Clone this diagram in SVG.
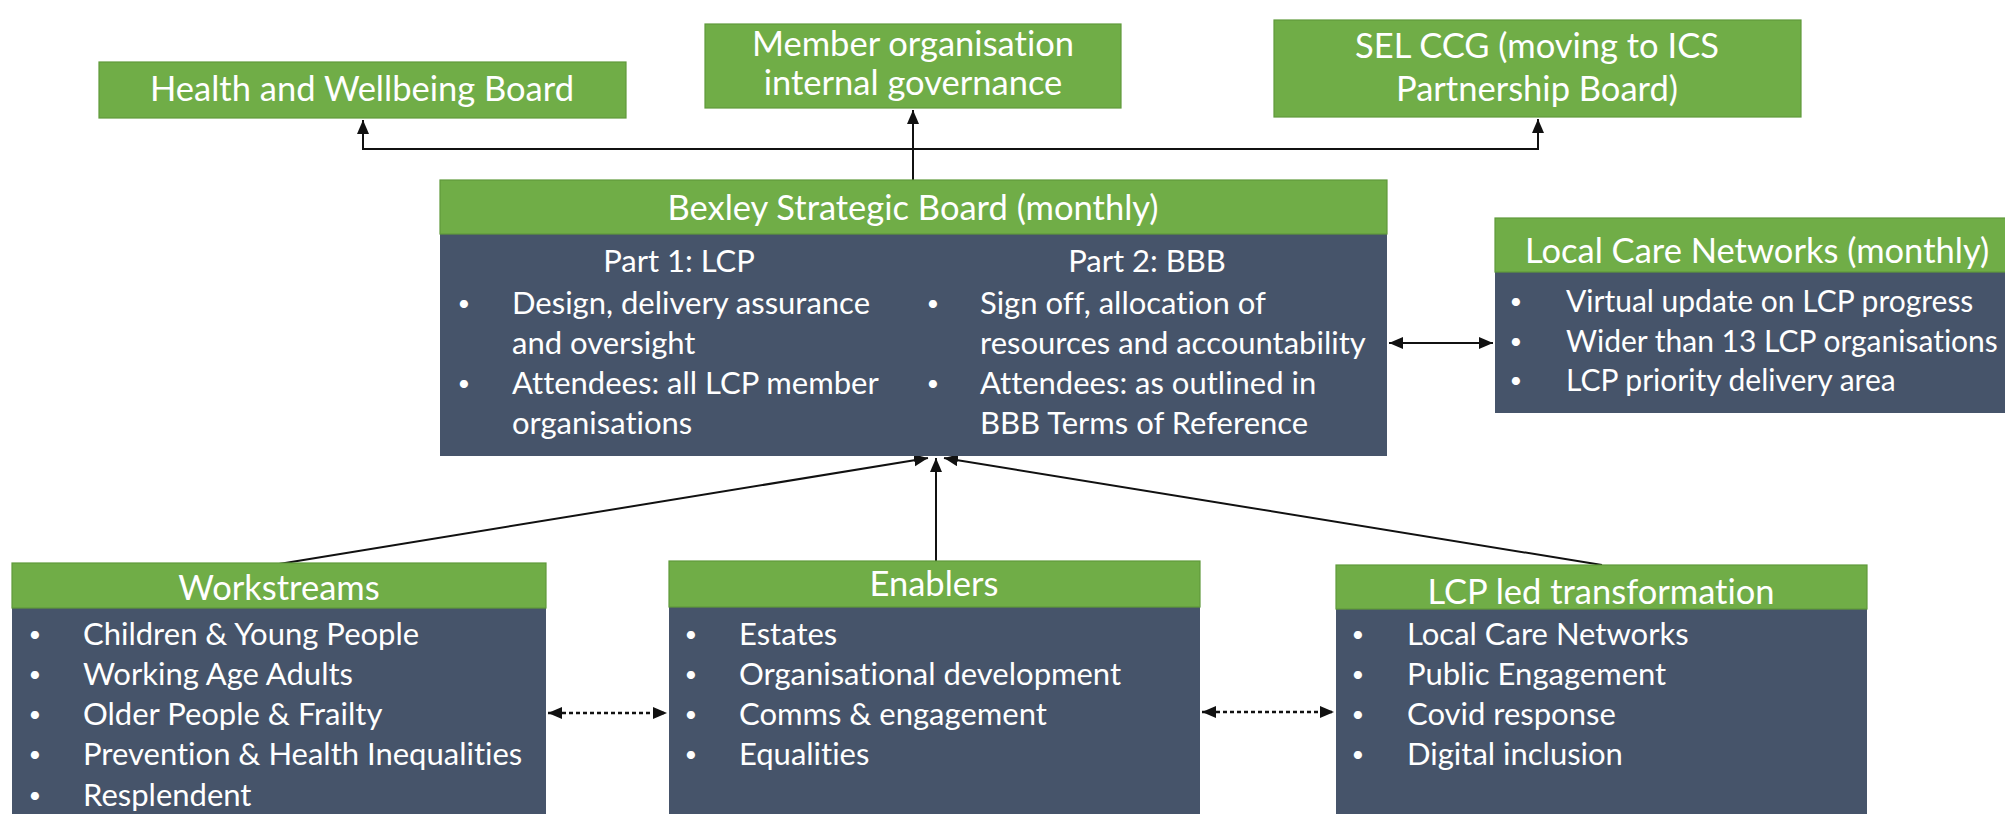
<svg xmlns="http://www.w3.org/2000/svg" width="2005" height="814" viewBox="0 0 2005 814">
<style>
text{font-variant-ligatures:none;font-feature-settings:"liga" 0}
.g{fill:#70AD47;stroke:#5f9a3b;stroke-width:1.2}
.s{fill:#46546A}
.h{font-family:Lato,"Liberation Sans",sans-serif;font-size:34.5px;fill:#fff;text-anchor:middle}
.b{font-family:Lato,"Liberation Sans",sans-serif;font-size:31px;fill:#fff}
.d{font-family:Lato,"Liberation Sans",sans-serif;font-size:31px;fill:#fff;text-anchor:middle}
.p{font-family:Lato,"Liberation Sans",sans-serif;font-size:22px;fill:#fff;text-anchor:middle}
.c{fill:none;stroke:#111;stroke-width:2}
.dot{fill:none;stroke:#111;stroke-width:2.5;stroke-dasharray:4 3}
</style>
<defs>
<marker id="ah" markerUnits="userSpaceOnUse" markerWidth="16" markerHeight="14" refX="14" refY="6" orient="auto-start-reverse" viewBox="0 0 16 14"><path d="M0,0 L14,6 L0,12 Z" fill="#111"/></marker>
<linearGradient id="fl" x1="0" x2="1" y1="0" y2="0"><stop offset="0" stop-color="#ffffff"/><stop offset="1" stop-color="#a9c48f"/></linearGradient>
</defs>
<rect width="2005" height="814" fill="#fff"/>
<line x1="1500" y1="9" x2="1965" y2="9" stroke="url(#fl)" stroke-width="1.5"/>

<g id="connectors">
<path class="c" d="M913,180 V110" marker-end="url(#ah)"/>
<path class="c" d="M363,120 V149 H1538 V119" marker-start="url(#ah)" marker-end="url(#ah)"/>
<path class="c" d="M1389,343 H1493" marker-start="url(#ah)" marker-end="url(#ah)"/>
<path class="c" d="M279,564 L928,458" marker-end="url(#ah)"/>
<path class="c" d="M936,561 V458" marker-end="url(#ah)"/>
<path class="c" d="M1602,565 L944,458" marker-end="url(#ah)"/>
<path class="dot" d="M548,713 H667" marker-start="url(#ah)" marker-end="url(#ah)"/>
<path class="dot" d="M1202,712 H1334" marker-start="url(#ah)" marker-end="url(#ah)"/>
</g>

<g id="hwb">
<rect class="g" x="99" y="62" width="527" height="56"/>
<text class="h" x="362" y="101">Health and Wellbeing Board</text>
</g>

<g id="member-org">
<rect class="g" x="705" y="24" width="416" height="84"/>
<text class="h" x="913" y="56">Member organisation</text>
<text class="h" x="913" y="95">internal governance</text>
</g>

<g id="sel-ccg">
<rect class="g" x="1274" y="20" width="527" height="97"/>
<text class="h" x="1537" y="58">SEL CCG (moving to ICS</text>
<text class="h" x="1537" y="101">Partnership Board)</text>
</g>

<g id="bexley">
<rect class="s" x="440" y="180" width="947" height="276"/>
<rect class="g" x="440" y="180" width="947" height="54"/>
<text class="h" x="913" y="220">Bexley Strategic Board (monthly)</text>
<text class="d" x="679" y="272">Part 1: LCP</text>
<text class="d" x="1147" y="272">Part 2: BBB</text>
<text class="p" x="464" y="311">•</text>
<text class="b" x="512" y="314">Design, delivery assurance</text>
<text class="b" x="512" y="354">and oversight</text>
<text class="p" x="464" y="391">•</text>
<text class="b" x="512" y="394">Attendees: all LCP member</text>
<text class="b" x="512" y="434">organisations</text>
<text class="p" x="933" y="311">•</text>
<text class="b" x="980" y="314">Sign off, allocation of</text>
<text class="b" x="980" y="354">resources and accountability</text>
<text class="p" x="933" y="391">•</text>
<text class="b" x="980" y="394">Attendees: as outlined in</text>
<text class="b" x="980" y="434">BBB Terms of Reference</text>
</g>

<g id="lcn">
<rect class="s" x="1495" y="218" width="520" height="195"/>
<rect class="g" x="1495" y="218" width="520" height="54"/>
<text class="h" x="1525" y="263" style="text-anchor:start">Local Care Networks (monthly)</text>
<text class="p" x="1516" y="309">•</text>
<text class="b" x="1566" y="312" style="font-size:30px">Virtual update on LCP progress</text>
<text class="p" x="1516" y="349">•</text>
<text class="b" x="1566" y="352" style="font-size:30px">Wider than 13 LCP organisations</text>
<text class="p" x="1516" y="388">•</text>
<text class="b" x="1566" y="391" style="font-size:30px">LCP priority delivery area</text>
</g>

<g id="workstreams">
<rect class="s" x="12" y="563" width="534" height="260"/>
<rect class="g" x="12" y="563" width="534" height="45"/>
<text class="h" x="279" y="600">Workstreams</text>
<text class="p" x="35" y="642">•</text>
<text class="b" x="83" y="645">Children &amp; Young People</text>
<text class="p" x="35" y="682">•</text>
<text class="b" x="83" y="685">Working Age Adults</text>
<text class="p" x="35" y="722">•</text>
<text class="b" x="83" y="725">Older People &amp; Frailty</text>
<text class="p" x="35" y="762">•</text>
<text class="b" x="83" y="765">Prevention &amp; Health Inequalities</text>
<text class="p" x="35" y="803">•</text>
<text class="b" x="83" y="806">Resplendent</text>
</g>

<g id="enablers">
<rect class="s" x="669" y="561" width="531" height="262"/>
<rect class="g" x="669" y="561" width="531" height="46"/>
<text class="h" x="934" y="596">Enablers</text>
<text class="p" x="691" y="642">•</text>
<text class="b" x="739" y="645">Estates</text>
<text class="p" x="691" y="682">•</text>
<text class="b" x="739" y="685">Organisational development</text>
<text class="p" x="691" y="722">•</text>
<text class="b" x="739" y="725">Comms &amp; engagement</text>
<text class="p" x="691" y="762">•</text>
<text class="b" x="739" y="765">Equalities</text>
</g>

<g id="lcp-led">
<rect class="s" x="1336" y="565" width="531" height="258"/>
<rect class="g" x="1336" y="565" width="531" height="44"/>
<text class="h" x="1601" y="604">LCP led transformation</text>
<text class="p" x="1358" y="642">•</text>
<text class="b" x="1407" y="645">Local Care Networks</text>
<text class="p" x="1358" y="682">•</text>
<text class="b" x="1407" y="685">Public Engagement</text>
<text class="p" x="1358" y="722">•</text>
<text class="b" x="1407" y="725">Covid response</text>
<text class="p" x="1358" y="762">•</text>
<text class="b" x="1407" y="765">Digital inclusion</text>
</g>
</svg>
